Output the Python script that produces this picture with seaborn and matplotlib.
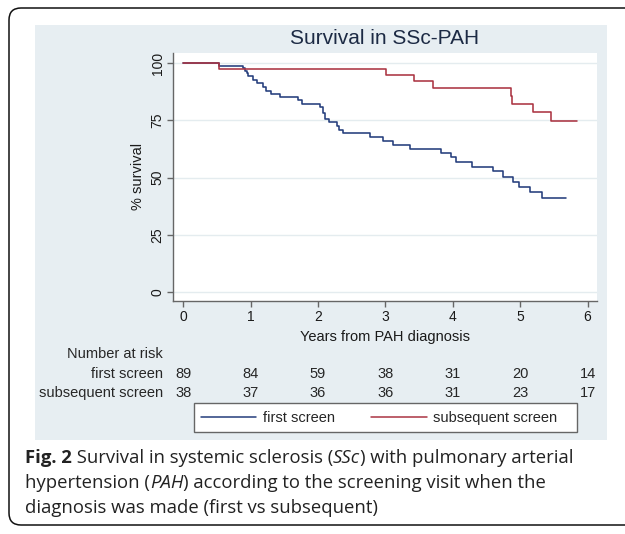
import matplotlib
matplotlib.use("Agg")
import matplotlib.pyplot as plt
import matplotlib.patches as mpatches
import matplotlib.transforms as mtransforms
from matplotlib.lines import Line2D
import pandas as pd
import seaborn as sns

# Kaplan-Meier steps (years, % survival)
first_t = [0, 0.53, 0.89, 0.92, 0.95, 0.97, 1.04, 1.09, 1.19, 1.23, 1.31, 1.43,
           1.71, 1.76, 2.03, 2.07, 2.10, 2.17, 2.28, 2.32, 2.37, 2.77, 2.97, 3.11,
           3.37, 3.83, 3.98, 4.05, 4.29, 4.59, 4.75, 4.90, 4.99, 5.14, 5.32, 5.68]
first_s = [100, 98.9, 97.8, 96.6, 95.5, 94.4, 92.5, 91.1, 89.6, 87.7, 86.7, 85.2,
           83.8, 82.3, 80.8, 78.2, 75.7, 74.3, 72.5, 70.6, 69.4, 67.7, 65.9, 64.0,
           62.6, 60.8, 58.9, 56.7, 54.8, 52.8, 50.4, 48.0, 45.8, 43.6, 41.1, 41.1]
sub_t = [0, 0.53, 3.01, 3.43, 3.70, 4.86, 4.88, 5.19, 5.46, 5.85]
sub_s = [100, 97.4, 94.7, 92.0, 89.0, 85.7, 82.2, 78.5, 74.8, 74.8]

groups = ["first screen", "subsequent screen"]
risk_years = [0, 1, 2, 3, 4, 5, 6]
risk_first = [89, 84, 59, 38, 31, 20, 14]
risk_sub = [38, 37, 36, 36, 31, 23, 17]

colors = {"first screen": "#243d7c", "subsequent screen": "#ab3442"}
panel_bg = "#e7eef2"
W, H = 625, 534
FS = 10.5

df = pd.concat([
    pd.DataFrame({"years": first_t, "survival": first_s, "group": groups[0]}),
    pd.DataFrame({"years": sub_t, "survival": sub_s, "group": groups[1]}),
])

sns.set_style("white")
plt.rcParams["font.family"] = ["Liberation Sans", "DejaVu Sans"]

fig = plt.figure(figsize=(W / 100, H / 100), dpi=100)

# outer rounded frame and light panel
frame = mpatches.FancyBboxPatch((9, H - 525), 700, 517,
                                boxstyle="round,pad=0,rounding_size=12",
                                transform=mtransforms.IdentityTransform(),
                                facecolor="white", edgecolor="#111111",
                                linewidth=1.1, zorder=-2)
fig.add_artist(frame)
fig.add_artist(mpatches.Rectangle((35 / W, 1 - 440 / H), (607 - 35) / W, (440 - 25) / H,
                                  transform=fig.transFigure, facecolor=panel_bg,
                                  edgecolor="none", zorder=-1))

ax = fig.add_axes([173 / W, 1 - 300.7 / H, (597 - 173) / W, (300.7 - 53) / H])
ax.set_facecolor("white")

sns.lineplot(data=df, x="years", y="survival", hue="group", palette=colors,
             estimator=None, sort=False, drawstyle="steps-post", linewidth=1.15,
             legend=False, ax=ax)

ax.set_xlim(-0.15, 6.14)
ax.set_ylim(-3.8, 104.4)
ax.set_xticks(risk_years)
ax.set_yticks([0, 25, 50, 75, 100])
ax.yaxis.grid(True, color="#e4ecef", linewidth=1)
ax.set_axisbelow(True)
for side in ["top", "right"]:
    ax.spines[side].set_visible(False)
for side in ["left", "bottom"]:
    ax.spines[side].set_color("#666666")
    ax.spines[side].set_linewidth(1)
ax.tick_params(axis="both", direction="out", length=4, width=1, color="#666666",
               labelsize=10, labelcolor="#1a1a1a", pad=3, left=True, bottom=True)
ax.tick_params(axis="y", labelrotation=90, pad=2)
for lab in ax.get_yticklabels():
    lab.set_va("center")
ax.set_xlabel("Years from PAH diagnosis", fontsize=FS, color="#1a1a1a", labelpad=4)
ax.set_ylabel("% survival", fontsize=FS, color="#1a1a1a", labelpad=4)

fig.text(385 / W, 1 - 39 / H, "Survival in SSc-PAH", ha="center", va="center",
         fontsize=15, color="#1c2a44")

# number-at-risk table
blend = mtransforms.blended_transform_factory(ax.transData, fig.transFigure)
fig.text(163 / W, 1 - 354 / H, "Number at risk", ha="right", va="center", fontsize=FS)
fig.text(163 / W, 1 - 374 / H, groups[0], ha="right", va="center", fontsize=FS)
fig.text(163 / W, 1 - 393 / H, groups[1], ha="right", va="center", fontsize=FS)
for yr, a, b in zip(risk_years, risk_first, risk_sub):
    ax.text(yr, 1 - 374 / H, str(a), transform=blend, ha="center", va="center", fontsize=FS)
    ax.text(yr, 1 - 393 / H, str(b), transform=blend, ha="center", va="center", fontsize=FS)

# legend: entries laid out in a slightly narrower strip, box drawn separately
fig.add_artist(mpatches.Rectangle((194 / W, 1 - 432 / H), (577 - 194) / W, 29 / H,
                                  transform=fig.transFigure, facecolor="white",
                                  edgecolor="#666666", linewidth=1, zorder=1))
handles = [Line2D([], [], color=colors[g], linewidth=1.1) for g in groups]
leg = fig.legend(handles, groups, loc="lower left", ncol=2, mode="expand",
                 bbox_to_anchor=(194 / W, 1 - 432 / H, (564 - 194) / W, 29 / H),
                 borderaxespad=0, frameon=False, fontsize=FS, handlelength=3.8,
                 handletextpad=0.45, borderpad=0.45)
leg.set_zorder(2)

# caption
cap = dict(fontsize=13.3, color="#222222", family=["Open Sans", "DejaVu Sans"])
cx = 25 / W
t = fig.text(cx, 1 - 463 / H, "Fig. 2", weight="bold", va="baseline", **cap)
t = ax.annotate(" Survival in systemic sclerosis (", xy=(1, 0), xycoords=t,
                va="bottom", annotation_clip=False, **cap)
t = ax.annotate("SSc", xy=(1, 0), xycoords=t, va="bottom", style="italic",
                annotation_clip=False, **cap)
ax.annotate(") with pulmonary arterial", xy=(1, 0), xycoords=t, va="bottom",
            annotation_clip=False, **cap)
t = fig.text(cx, 1 - 488 / H, "hypertension (", va="baseline", **cap)
t = ax.annotate("PAH", xy=(1, 0), xycoords=t, va="bottom", style="italic",
                annotation_clip=False, **cap)
ax.annotate(") according to the screening visit when the", xy=(1, 0), xycoords=t,
            va="bottom", annotation_clip=False, **cap)
fig.text(cx, 1 - 513 / H, "diagnosis was made (first vs subsequent)", va="baseline", **cap)

fig.savefig("out.png", dpi=100)
